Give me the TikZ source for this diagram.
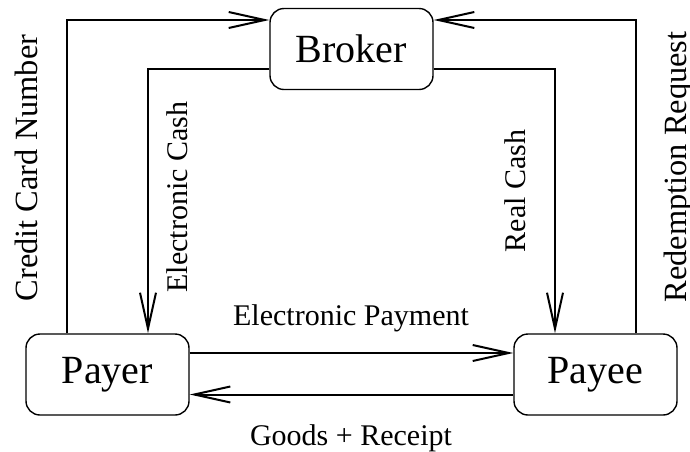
\documentclass[tikz,border=0pt]{standalone}
\usepackage{fontspec}
\setmainfont{Liberation Serif}
\usetikzlibrary{arrows.meta}
\usetikzlibrary{calc}

\begin{document}
\begin{tikzpicture}[x=0.5pt,y=-0.5pt,
  party/.style={draw,rounded corners=7pt,minimum width=81.5pt,minimum height=40.5pt,line width=0.7pt,font=\fontsize{20}{24}\selectfont},
  flow/.style={line width=1pt,-{Straight Barb[length=18pt,width=8pt]}},
  lbl/.style={font=\fontsize{15}{18}\selectfont,anchor=base},
  sidelbl/.style={lbl,rotate=90,font=\fontsize{16.2}{19}\selectfont}]
\useasboundingbox (0,0) rectangle (690,451);

%draw the parties
\node[party] (broker) at (351.5,49) {Broker};
\node[party] (payer) at (107.5,374.5) {Payer};
\node[party] (payee) at (595.5,374.5) {Payee};

%payer <-> broker
\draw[flow] ($(payer.north)+(-40.5,0)$) |- ($(broker.west)+(0,-29)$);
\draw[flow] ($(broker.west)+(0,20)$) -| ($(payer.north)+(40.5,0)$);
%broker <-> payee
\draw[flow] ($(broker.east)+(0,20)$) -| ($(payee.north)+(-40.5,0)$);
\draw[flow] ($(payee.north)+(40.5,0)$) |- ($(broker.east)+(0,-29)$);
%payer <-> payee
\draw[flow] ($(payer.east)+(0,-21.5)$) -- ($(payee.west)+(0,-21.5)$);
\draw[flow] ($(payee.west)+(0,20)$) -- ($(payer.east)+(0,20)$);

%labels
\node[sidelbl] (ccnum) at (37,168) {Credit Card Number};
\node[lbl,rotate=90] (ecash) at (187,197) {Electronic Cash};
\node[lbl,rotate=90] (rcash) at (525,191) {Real Cash};
\node[sidelbl] (redeem) at (686,167) {Redemption Request};
\node[lbl] (epay) at (351,325) {Electronic Payment};
\node[lbl] (goods) at (351,445) {Goods + Receipt};
\end{tikzpicture}
\end{document}
